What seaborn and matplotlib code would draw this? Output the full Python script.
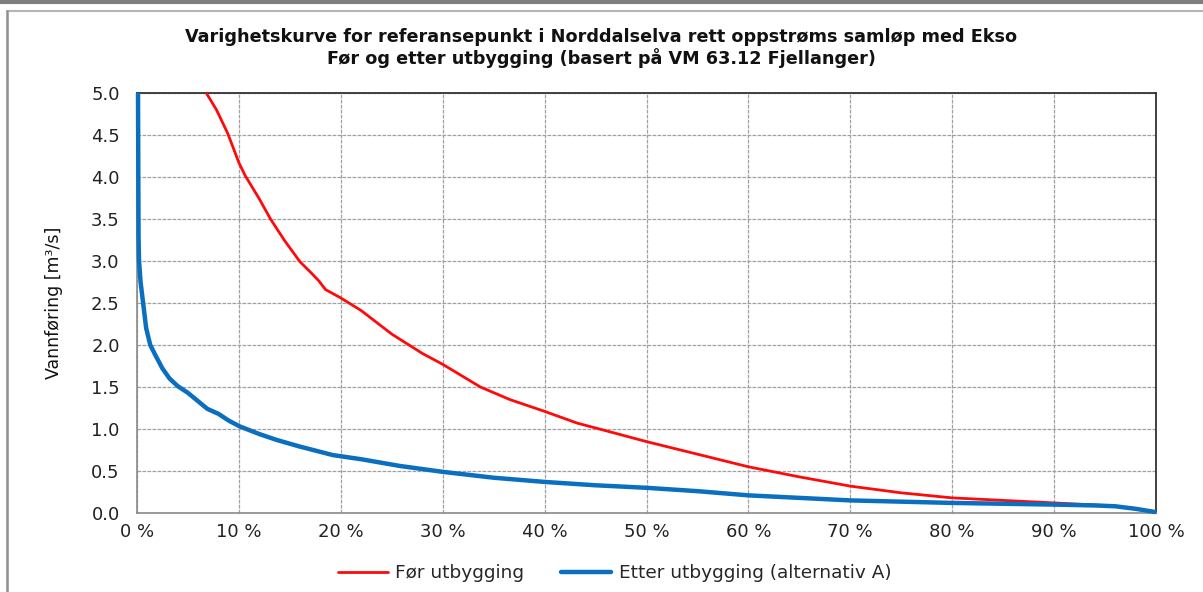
import matplotlib
matplotlib.use("Agg")
import matplotlib.pyplot as plt
from matplotlib.lines import Line2D
import numpy as np
import pandas as pd
import seaborn as sns

# Duration curve: share of time (%) that the flow is exceeded, and flow in m3/s
for_pct = [6.8, 7.8, 8.9, 9.5, 10.0, 10.6, 11.3, 12.0, 13.1, 14.5, 16.0, 17.0, 17.8,
           18.5, 20.0, 22.0, 25.0, 28.0, 30.0, 33.7, 36.6, 40.0, 43.2, 46.0,
           50.0, 55.0, 60.0, 65.0, 70.0, 75.0, 80.0, 85.0, 90.0, 94.0, 96.0]
for_flow = [5.0, 4.8, 4.52, 4.33, 4.17, 4.02, 3.88, 3.74, 3.5, 3.24, 2.99, 2.87, 2.77,
            2.66, 2.56, 2.41, 2.13, 1.9, 1.77, 1.5, 1.35, 1.21, 1.07, 0.98,
            0.85, 0.7, 0.55, 0.43, 0.32, 0.24, 0.18, 0.15, 0.12, 0.095, 0.085]

etter_pct = [0.1, 0.15, 0.2, 0.35, 0.6, 0.9, 1.3, 1.8, 2.5, 3.2, 4.0, 5.0, 6.0, 6.9,
             8.0, 9.0, 10.1, 12.0, 13.7, 16.0, 19.2, 22.0, 25.8, 30.0, 35.0, 40.0,
             45.0, 50.0, 55.0, 60.0, 65.0, 70.0, 75.0, 80.0, 85.0, 90.0, 94.0, 96.0,
             98.0, 100.0]
etter_flow = [5.0, 3.3, 3.0, 2.75, 2.5, 2.2, 2.0, 1.88, 1.72, 1.6, 1.51, 1.43, 1.33, 1.24,
              1.18, 1.1, 1.03, 0.94, 0.87, 0.79, 0.69, 0.64, 0.56, 0.49, 0.42, 0.37,
              0.33, 0.3, 0.26, 0.21, 0.18, 0.15, 0.135, 0.12, 0.11, 0.1, 0.09, 0.08,
              0.05, 0.01]

series_names = ["Før utbygging", "Etter utbygging (alternativ A)"]
series_colors = ["#ff0a0a", "#0b6fc0"]
series_widths = [2.0, 3.2]

x_ticks = list(range(0, 101, 10))
x_ticklabels = [f"{v} %" for v in x_ticks]
y_ticks = [0.0, 0.5, 1.0, 1.5, 2.0, 2.5, 3.0, 3.5, 4.0, 4.5, 5.0]

title_text = ("Varighetskurve for referansepunkt i Norddalselva rett oppstrøms samløp med Ekso\n"
              "Før og etter utbygging (basert på VM 63.12 Fjellanger)")
y_label = "Vannføring [m³/s]"

df = pd.concat([
    pd.DataFrame({"pct": for_pct, "flow": for_flow, "serie": series_names[0]}),
    pd.DataFrame({"pct": etter_pct, "flow": etter_flow, "serie": series_names[1]}),
], ignore_index=True)

sns.set_theme(style="white")
plt.rcParams["font.family"] = ["DejaVu Sans"]

fig = plt.figure(figsize=(12.03, 5.92), dpi=100)
fig.patch.set_facecolor("white")
ax = fig.add_axes([137 / 1203, 1 - 513 / 592, (1156 - 137) / 1203, (513 - 93) / 592])

for name, color, lw in zip(series_names, series_colors, series_widths):
    sns.lineplot(data=df[df["serie"] == name], x="pct", y="flow", color=color,
                 linewidth=lw, ax=ax, label=name, sort=False, clip_on=False,
                 solid_capstyle="butt", solid_joinstyle="round", zorder=3)

ax.set_xlim(0, 100)
ax.set_ylim(0, 5.0)
ax.set_xticks(x_ticks)
ax.set_xticklabels(x_ticklabels)
ax.set_yticks(y_ticks)
ax.set_yticklabels([f"{v:.1f}" for v in y_ticks])
ax.set_xlabel("")
ax.set_ylabel(y_label, fontsize=12.5, color="#111111", labelpad=20)

ax.grid(True, color="#a0a0a0", linestyle=(0, (3, 1)), linewidth=0.9)
ax.set_axisbelow(True)
ax.tick_params(axis="both", labelsize=13, colors="#222222", length=4.5, width=1,
               direction="out")
ax.tick_params(axis="both", color="#888888")
ax.tick_params(axis="y", pad=8)
ax.tick_params(axis="x", pad=3)
for side in ["top", "right"]:
    ax.spines[side].set_color("#333333")
    ax.spines[side].set_linewidth(1.3)
for side in ["left", "bottom"]:
    ax.spines[side].set_color("#8a8a8a")
    ax.spines[side].set_linewidth(1.2)

ax.get_legend().remove()
handles = [Line2D([], [], color=c, linewidth=w) for c, w in zip(series_colors, series_widths)]
fig.legend(handles, series_names, loc="center", bbox_to_anchor=(0.511, 0.032), ncol=2,
           frameon=False, fontsize=13.3, handlelength=2.7, handletextpad=0.4,
           columnspacing=2.0)

fig.text(0.5, 1 - 48 / 592, title_text, ha="center", va="center", fontsize=12.7,
         fontweight="bold", color="#111111", linespacing=1.1)

# Outer frame of the chart area
fig.add_artist(Line2D([0, 1], [1 - 1.5 / 592, 1 - 1.5 / 592], transform=fig.transFigure,
                      color="#7f7f7f", linewidth=3))
fig.add_artist(Line2D([7 / 1203, 1], [1 - 11 / 592, 1 - 11 / 592], transform=fig.transFigure,
                      color="#b5b5b5", linewidth=1.5))
fig.add_artist(Line2D([7 / 1203, 7 / 1203], [0, 1 - 11 / 592], transform=fig.transFigure,
                      color="#8f8f8f", linewidth=1.8))

fig.savefig("out.png", dpi=100, facecolor="white")
